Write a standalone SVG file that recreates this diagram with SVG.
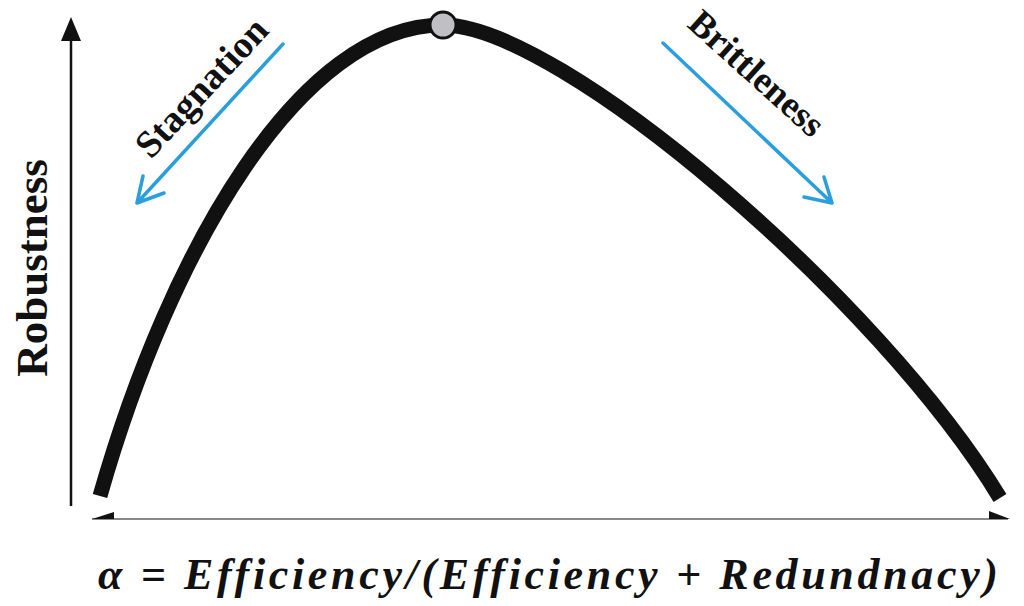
<svg xmlns="http://www.w3.org/2000/svg" width="1024" height="606" viewBox="0 0 1024 606">
<style>
.lbl{font-family:"Liberation Serif","Times New Roman",serif;font-weight:bold;fill:#111}
.blue{stroke:#2a9fdb;stroke-width:3.5;fill:none;stroke-linecap:round;stroke-linejoin:round}
.axis{stroke:#111;stroke-width:2.5;fill:none}
</style>
<rect width="1024" height="606" fill="#fff"/>
<g id="axes">
<line class="axis" x1="71" y1="36" x2="71" y2="506"/>
<polygon points="71,17 61,41 81,41" fill="#111"/>
<line x1="92" y1="519" x2="1008" y2="519" stroke="#888" stroke-width="2"/>
<polygon points="92,519 114,512 114,519" fill="#111"/>
<polygon points="1010,519 989,511 989,519" fill="#111"/>
</g>
<g id="curve">
<path d="M100,496 C170,250 300,25 443,25 C560,25 880,300 1000,498" fill="none" stroke="#111" stroke-width="15"/>
</g>
<g id="peak">
<circle cx="443" cy="25" r="13" fill="#c0c0c4" stroke="#111" stroke-width="3"/>
</g>
<g id="connectors">
<path class="blue" d="M283,44 L137,203 M143,176 L137,203 L164,193"/>
<path class="blue" d="M663,43 L832,203 M804,197 L832,203 L824,177"/>
</g>
<g id="stagnation">
<text class="lbl" font-size="38" transform="translate(151,160) rotate(-47)">Stagnation</text>
</g>
<g id="brittleness">
<text class="lbl" font-size="37" transform="translate(686,26) rotate(42)">Brittleness</text>
</g>
<g id="robustness">
<text class="lbl" font-size="45" text-anchor="middle" transform="translate(47,268) rotate(-90)">Robustness</text>
</g>
<g id="formula">
<text x="98" y="589" font-family="Liberation Serif, serif" font-weight="bold" font-style="italic" font-size="44" fill="#111" textLength="900" lengthAdjust="spacing">α = Efficiency/(Efficiency + Redundnacy)</text>
</g>
</svg>
